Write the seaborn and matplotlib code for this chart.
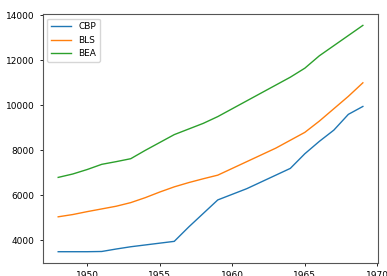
import pandas as pd
import matplotlib
matplotlib.use("Agg")
import matplotlib.pyplot as plt
import seaborn as sns

years = list(range(1948, 1970))

cbp = [3500, 3500, 3500, 3510, 3620, 3720, 3800, 3880, 3960, 4600, 5200,
       5800, 6050, 6300, 6600, 6900, 7200, 7850, 8400, 8900, 9600, 9950]
bls = [5050, 5150, 5280, 5400, 5520, 5680, 5900, 6150, 6380, 6570, 6740,
       6900, 7200, 7500, 7800, 8100, 8450, 8800, 9300, 9850, 10400, 11000]
bea = [6800, 6950, 7150, 7380, 7500, 7630, 8000, 8350, 8700, 8950, 9200,
       9500, 9850, 10200, 10550, 10900, 11250, 11650, 12200, 12650, 13100, 13550]

series_names = ["CBP", "BLS", "BEA"]

df = pd.concat([
    pd.DataFrame({"year": years, "value": vals, "source": name})
    for name, vals in zip(series_names, [cbp, bls, bea])
])

plt.rcParams["font.size"] = 6.5

fig = plt.figure(figsize=(3.87, 2.76), dpi=100)
ax = fig.add_axes([0.111, 0.047, 0.866, 0.902])

sns.lineplot(data=df, x="year", y="value", hue="source", hue_order=series_names,
             palette=["#1f77b4", "#ff7f0e", "#2ca02c"], linewidth=1.0, ax=ax)

ax.set_xlabel("")
ax.set_ylabel("")
ax.set_xticks([1950, 1955, 1960, 1965, 1970])
ax.set_yticks([4000, 6000, 8000, 10000, 12000, 14000])
ax.tick_params(labelsize=6.5, length=2.5, width=0.6)
for s in ax.spines.values():
    s.set_linewidth(0.8)
    s.set_color("#555555")

ax.legend(title=None, loc="upper left", fontsize=6.5, handlelength=2.2,
          frameon=True, framealpha=0.8)

fig.savefig("out.png", dpi=100)
